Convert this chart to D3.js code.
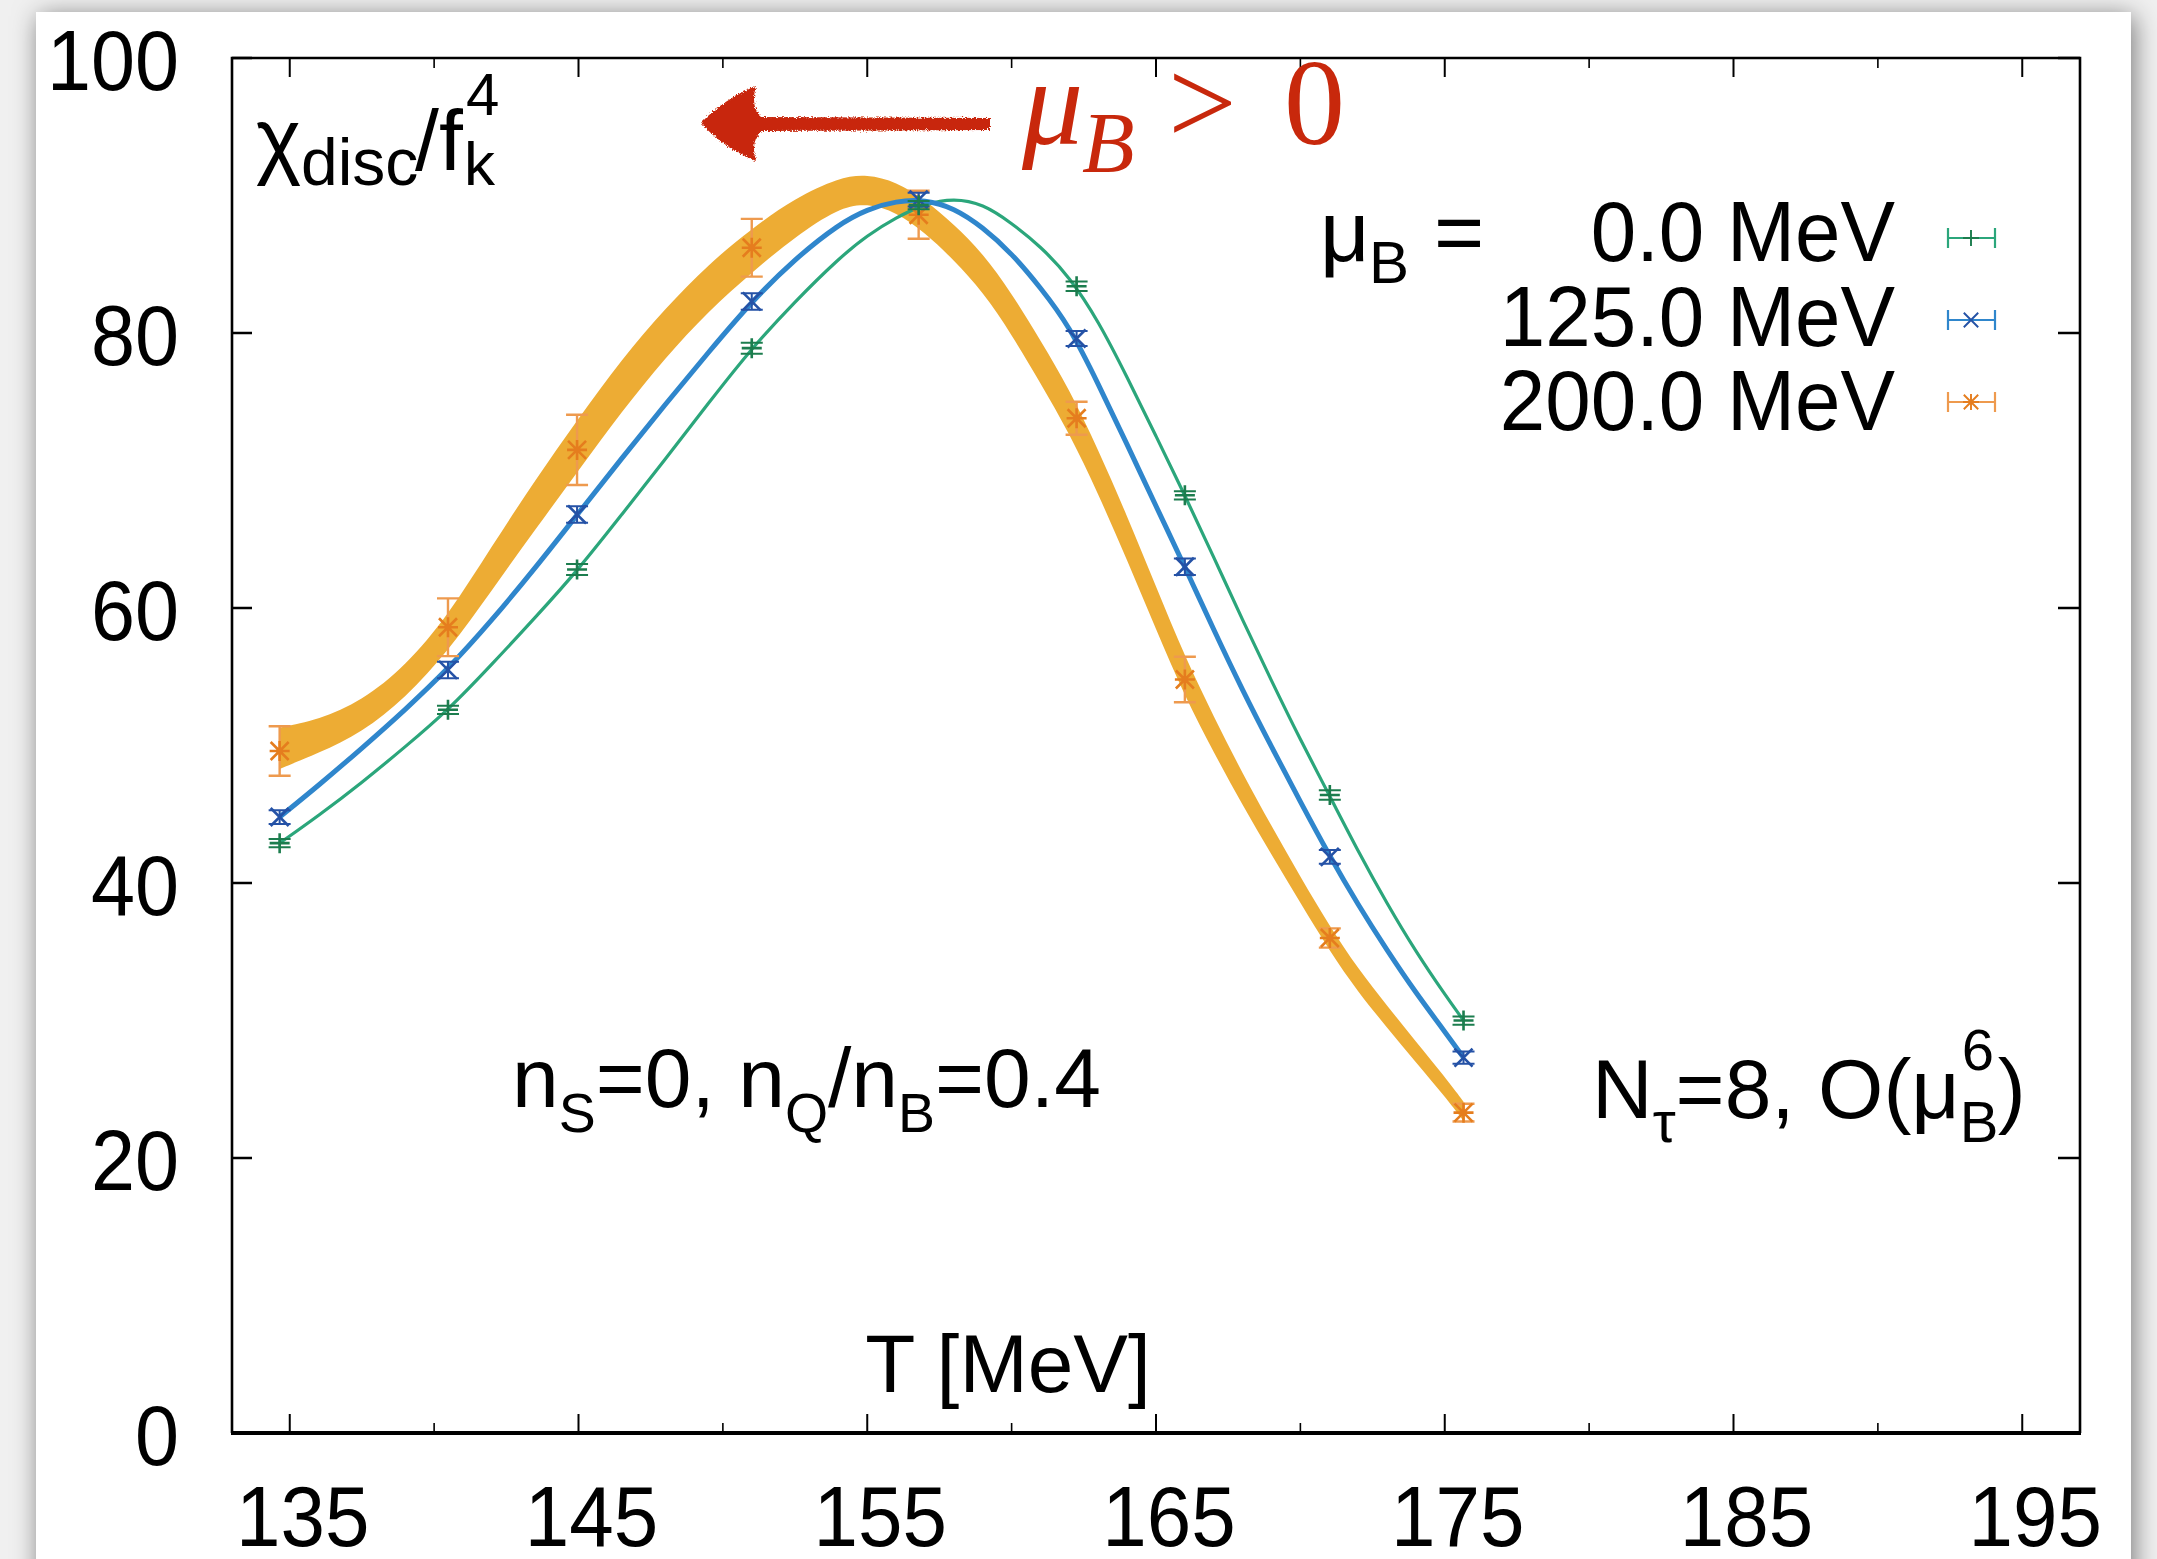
<!DOCTYPE html>
<html>
<head>
<meta charset="utf-8">
<script src="https://cdn.jsdelivr.net/npm/d3@7"></script>
<style>
  html, body { margin: 0; padding: 0; background: #fff; }
  svg { display: block; }
  text { font-family: "Liberation Sans", Arial, Helvetica, sans-serif; fill: #000; }
  .serif { font-family: "Liberation Serif", "Times New Roman", serif; }
</style>
</head>
<body>
<svg id="chart" width="2157" height="1559"></svg>
<script>
// ---- lattice data: disconnected chiral susceptibility, N_tau = 8 ----
const temps     = [134.65, 140.48, 144.95, 151.0, 156.78, 162.25, 166.0, 171.02, 175.65];
const chiMu0    = [42.9, 52.6, 62.8, 78.9, 89.3, 83.4, 68.2, 46.4, 30.0];
const errMu0    = [0.3, 0.3, 0.4, 0.4, 0.3, 0.35, 0.3, 0.35, 0.3];
const chiMu125  = [44.8, 55.5, 66.8, 82.3, 89.7, 79.6, 63.0, 41.9, 27.3];
const errMu125  = [0.5, 0.6, 0.6, 0.6, 0.5, 0.55, 0.6, 0.5, 0.45];
const chiMu200  = [49.6, 58.6, 71.5, 86.2, 88.6, 73.8, 54.8, 36.0, 23.3];
const errMu200  = [1.8, 2.1, 2.55, 2.1, 1.75, 1.2, 1.65, 0.7, 0.65];

// ---- smooth fits, sampled on a temperature grid ----
const fitT      = [134.65, 136, 137.5, 139, 140.5, 142, 143.5, 145, 146.5, 148, 149.5, 151, 152.5, 154, 155, 156,
                   157, 158, 159, 160, 161, 162, 163, 164, 165, 166, 167, 168, 169, 170, 171, 172, 173, 174, 175, 175.65];
const fitMu0    = [42.9, 44.9, 47.3, 49.9, 52.6, 55.9, 59.3, 62.8, 66.8, 70.8, 74.9, 78.9, 82.3, 85.4, 87.1, 88.4,
                   89.4, 89.8, 89.4, 88.0, 86.3, 84.1, 80.9, 76.8, 72.5, 68.2, 63.7, 59.1, 54.7, 50.4, 46.4, 42.3, 38.5, 35.0, 31.9, 30.0];
const fitMu125  = [44.8, 47.1, 49.8, 52.6, 55.6, 59.1, 62.9, 66.9, 70.9, 74.8, 78.6, 82.3, 85.4, 87.9, 89.0, 89.6,
                   89.7, 89.1, 87.7, 85.8, 83.3, 80.5, 76.3, 71.9, 67.4, 63.0, 58.4, 54.0, 49.9, 45.9, 42.0, 38.4, 35.1, 32.0, 29.2, 27.3];
const fitMu200  = [49.8, 50.65, 52.1, 54.6, 58.2, 62.9, 67.5, 71.9, 76.2, 80.0, 83.3, 86.0, 88.4, 90.2, 90.5, 89.9,
                   88.5, 86.6, 84.4, 81.4, 77.9, 74.3, 69.9, 65.1, 60.0, 55.0, 50.8, 46.8, 43.1, 39.5, 36.0, 32.9, 30.3, 27.7, 25.2, 23.4];
const bandMu200 = [1.5, 1.2, 1.15, 1.15, 1.3, 1.6, 1.8, 1.9, 1.9, 1.8, 1.7, 1.6, 1.4, 1.1, 1.05, 1.1,
                   1.2, 1.3, 1.4, 1.5, 1.55, 1.6, 1.6, 1.6, 1.55, 1.45, 1.3, 1.15, 1.05, 0.95, 0.9, 0.85, 0.8, 0.75, 0.72, 0.7];

// ---- axes ----
const xTicks      = [135, 145, 155, 165, 175, 185, 195];
const xMinorTicks = [140, 150, 160, 170, 180, 190];
const yTicks      = [0, 20, 40, 60, 80, 100];
const legendLabels = ["0.0 MeV", "125.0 MeV", "200.0 MeV"];

const W = 2157, H = 1559;
const svg = d3.select("#chart");
const x = d3.scaleLinear().domain([133, 197]).range([232, 2080]);
const y = d3.scaleLinear().domain([0, 100]).range([1433, 58]);

const colors = {
  mu0:   { line: "#2ba67b", mark: "#1c7d4e" },
  mu125: { line: "#2f86cc", mark: "#2552a6" },
  mu200: { band: "#edac34", mark: "#e57d1e", bar: "#ee9a4e" }
};

// squeeze a text horizontally to mimic the narrow terminal font
function condense(sel, k) {
  sel.each(function () {
    const len = this.getComputedTextLength();
    d3.select(this).attr("textLength", len * k).attr("lengthAdjust", "spacingAndGlyphs");
  });
}

// ---- page card with soft shadow ----
const defs = svg.append("defs");
const sh = defs.append("filter").attr("id", "cardShadow")
  .attr("x", "-5%").attr("y", "-5%").attr("width", "110%").attr("height", "110%");
sh.append("feDropShadow").attr("dx", 3).attr("dy", 4).attr("stdDeviation", 13)
  .attr("flood-color", "#000").attr("flood-opacity", 0.5);
const rough = defs.append("filter").attr("id", "rough");
rough.append("feTurbulence").attr("type", "fractalNoise").attr("baseFrequency", 0.8)
  .attr("numOctaves", 2).attr("seed", 3).attr("result", "noise");
rough.append("feDisplacementMap").attr("in", "SourceGraphic").attr("in2", "noise")
  .attr("scale", 5).attr("xChannelSelector", "R").attr("yChannelSelector", "G");

svg.append("rect").attr("width", W).attr("height", H).attr("fill", "#f0f0f0");
svg.append("rect").attr("x", 36).attr("y", 12).attr("width", 2095).attr("height", 1640)
  .attr("fill", "#fff").attr("filter", "url(#cardShadow)");

// ---- fits ----
const fitLine = vals => d3.line()
  .x((d, i) => x(fitT[i]))
  .y((d, i) => y(vals[i]))
  .curve(d3.curveBasis)(fitT);

const band = d3.area()
  .x((d, i) => x(fitT[i]))
  .y0((d, i) => y(fitMu200[i] - bandMu200[i]))
  .y1((d, i) => y(fitMu200[i] + bandMu200[i]))
  .curve(d3.curveBasis);

const g = svg.append("g");
g.append("path").attr("d", band(fitT)).attr("fill", colors.mu200.band);
g.append("path").attr("d", fitLine(fitMu0)).attr("fill", "none")
  .attr("stroke", colors.mu0.line).attr("stroke-width", 3.2);
g.append("path").attr("d", fitLine(fitMu125)).attr("fill", "none")
  .attr("stroke", colors.mu125.line).attr("stroke-width", 5);

// ---- data points with error bars ----
const plusPath  = "M-10,0H10M0,-10V10";
const crossPath = "M-9,-9L9,9M-9,9L9,-9";
const starPath  = plusPath + crossPath;

function drawSeries(vals, errs, markPath, markColor, barColor, barW) {
  const s = g.append("g");
  temps.forEach((t, i) => {
    const cx = x(t), lo = y(vals[i] - errs[i]), hi = y(vals[i] + errs[i]);
    s.append("path")
      .attr("d", `M${cx},${lo}V${hi}M${cx - 11},${lo}H${cx + 11}M${cx - 11},${hi}H${cx + 11}`)
      .attr("stroke", barColor).attr("stroke-width", barW).attr("fill", "none");
    s.append("path").attr("d", markPath)
      .attr("transform", `translate(${cx},${y(vals[i])})`)
      .attr("stroke", markColor).attr("stroke-width", 2.6).attr("fill", "none");
  });
}
drawSeries(chiMu200, errMu200, starPath, colors.mu200.mark, colors.mu200.bar, 2.4);
drawSeries(chiMu125, errMu125, crossPath, colors.mu125.mark, colors.mu125.mark, 2.0);
drawSeries(chiMu0, errMu0, plusPath, colors.mu0.mark, colors.mu0.mark, 2.0);

// ---- frame and ticks ----
const [x0, x1] = x.range(), [yb, yt] = y.range();
const axes = svg.append("g").attr("stroke", "#000").attr("fill", "none");
axes.append("path").attr("d", `M${x0},${yb}V${yt}H${x1}V${yb}`).attr("stroke-width", 2.6);
axes.append("path").attr("d", `M${x0 - 1},${yb}H${x1 + 1}`).attr("stroke-width", 4.2);
xTicks.forEach(v => {
  axes.append("path").attr("d", `M${x(v)},${yb}v-19M${x(v)},${yt}v19`).attr("stroke-width", 2);
});
xMinorTicks.forEach(v => {
  axes.append("path").attr("d", `M${x(v)},${yb}v-10M${x(v)},${yt}v10`).attr("stroke-width", 1.6);
});
yTicks.forEach(v => {
  axes.append("path").attr("d", `M${x0},${y(v)}h20M${x1},${y(v)}h-22`).attr("stroke-width", 2.4);
});

// tick labels
const xl = svg.append("g").selectAll("text").data(xTicks).join("text")
  .attr("x", d => x(d) + 13).attr("y", 1546)
  .attr("text-anchor", "middle").attr("font-size", 86).text(d => d);
condense(xl, 0.93);
const ylab = svg.append("g").selectAll("text").data(yTicks).join("text")
  .attr("x", 179).attr("y", d => y(d) + 32)
  .attr("text-anchor", "end").attr("font-size", 86).text(d => d);
condense(ylab, 0.92);

// axis titles
svg.append("text").attr("x", 1008).attr("y", 1392).attr("text-anchor", "middle")
  .attr("font-size", 82).text("T [MeV]");

const yl = svg.append("g");
yl.append("text").attr("x", 256).attr("y", 168).attr("font-size", 86).text("χ");
yl.append("text").attr("x", 301).attr("y", 185).attr("font-size", 66).text("disc");
yl.append("text").attr("x", 415).attr("y", 170).attr("font-size", 86).text("/f");
yl.append("text").attr("x", 464).attr("y", 185).attr("font-size", 62).text("k");
yl.append("text").attr("x", 466).attr("y", 115).attr("font-size", 60).text("4");

// ---- annotations ----
function subsup(parent, xStart, baseline, size, parts) {
  // parts: [text, kind] where kind is "n" (normal), "sub" (lowered) or "back" (return to baseline)
  const t = parent.append("text").attr("x", xStart).attr("y", baseline).attr("font-size", size);
  parts.forEach(([s, kind]) => {
    const sp = t.append("tspan").text(s);
    if (kind === "sub") sp.attr("font-size", size * 0.66).attr("dy", size * 0.3);
    if (kind === "back") sp.attr("dy", -size * 0.3);
  });
  return t;
}
subsup(svg, 512, 1107, 84, [["n", "n"], ["S", "sub"], ["=0, n", "back"], ["Q", "sub"], ["/n", "back"], ["B", "sub"], ["=0.4", "back"]]);

const nt = svg.append("text").attr("x", 1592).attr("y", 1118).attr("font-size", 84);
nt.append("tspan").text("N");
nt.append("tspan").attr("font-size", 58).attr("dy", 24).text("τ");
nt.append("tspan").attr("dy", -24).text("=8, O(μ");
const ntEnd = 1592 + nt.node().getComputedTextLength();
svg.append("text").attr("x", ntEnd + 2).attr("y", 1070).attr("font-size", 58).text("6");
svg.append("text").attr("x", ntEnd).attr("y", 1142).attr("font-size", 58).text("B");
svg.append("text").attr("x", ntEnd + 38).attr("y", 1118).attr("font-size", 84).text(")");

// legend
const legY = [261, 346, 430];
const legSampleY = [238, 320, 402];
const lg = svg.append("g");
lg.append("text").attr("x", 1320).attr("y", 261).attr("font-size", 86).text("μ");
lg.append("text").attr("x", 1369).attr("y", 283).attr("font-size", 60).text("B");
lg.append("text").attr("x", 1434).attr("y", 261).attr("font-size", 86).text("=");
const lt = lg.selectAll("text.lab").data(legendLabels).join("text").attr("class", "lab")
  .attr("x", 1895).attr("y", (d, i) => legY[i]).attr("text-anchor", "end")
  .attr("font-size", 86).text(d => d);
condense(lt, 0.95);
const legStyles = [
  [plusPath, colors.mu0.mark, colors.mu0.line],
  [crossPath, colors.mu125.mark, colors.mu125.line],
  [starPath, colors.mu200.mark, colors.mu200.bar]
];
legStyles.forEach(([p, mc, bc], i) => {
  const cy = legSampleY[i];
  lg.append("path").attr("d", `M1948,${cy}H1995M1948,${cy - 10}V${cy + 10}M1995,${cy - 10}V${cy + 10}`)
    .attr("stroke", bc).attr("stroke-width", 2.2).attr("fill", "none");
  lg.append("path").attr("d", p).attr("transform", `translate(1971,${cy}) scale(0.8)`)
    .attr("stroke", mc).attr("stroke-width", 2.4).attr("fill", "none");
});

// red arrow with label: lower temperature as mu_B grows
const red = "#c8280c";
svg.append("path")
  .attr("d", "M701,123 Q722,100 756,86 Q750,108 762,117 L990,118 L990,130 L762,131 Q750,140 756,161 Q722,147 701,123 Z")
  .attr("fill", red).attr("filter", "url(#rough)");
const rt = svg.append("g").attr("fill", red);
rt.append("text").attr("class", "serif").attr("x", 1022).attr("y", 144)
  .attr("font-size", 122).attr("font-style", "italic").style("fill", red).text("μ");
rt.append("text").attr("class", "serif").attr("x", 1082).attr("y", 172)
  .attr("font-size", 86).attr("font-style", "italic").style("fill", red).text("B");
rt.append("text").attr("class", "serif").attr("x", 1168).attr("y", 144)
  .attr("font-size", 122).style("fill", red).text(">");
rt.append("text").attr("class", "serif").attr("x", 1284).attr("y", 144)
  .attr("font-size", 122).style("fill", red).text("0");
</script>
</body>
</html>
